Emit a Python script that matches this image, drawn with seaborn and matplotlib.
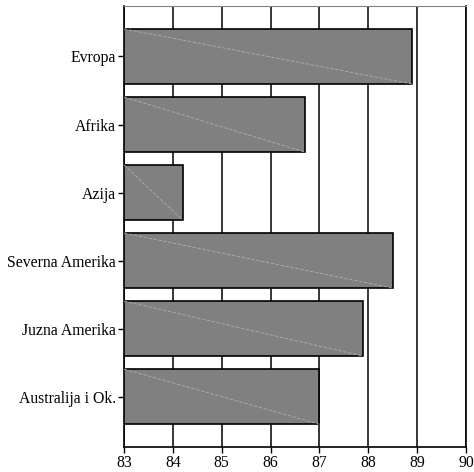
import numpy as np
import pandas as pd
import matplotlib
matplotlib.use('Agg')
import matplotlib.pyplot as plt
import seaborn as sns

# Data
regions = ['Evropa', 'Afrika', 'Azija', 'Severna Amerika', 'Juzna Amerika', 'Australija i Ok.']
values = [88.9, 86.7, 84.2, 88.5, 87.9, 87.0]
x_ticks = [83, 84, 85, 86, 87, 88, 89, 90]

df = pd.DataFrame({'region': regions, 'value': values})

sns.set_style('white')
plt.rcParams['font.family'] = ['Liberation Serif', 'DejaVu Serif']

fig = plt.figure(figsize=(4.74, 4.72), dpi=100)
ax = fig.add_axes([0.2616, 0.053, 0.7215, 0.934])

# vertical gridlines behind the bars
for t in x_ticks:
    ax.axvline(t, color='black', linewidth=1.1, zorder=0)

sns.barplot(data=df, y='region', x='value', orient='h', color='#808080',
            saturation=1, edgecolor='black', linewidth=1.2, width=0.81,
            ax=ax, zorder=2)

# thin light diagonal inside each bar
for p in ax.patches:
    y0 = p.get_y()
    y1 = y0 + p.get_height()
    x1 = p.get_x() + p.get_width()
    ax.plot([x_ticks[0], x1], [y0, y1], color='#b0b0b0', linewidth=0.6,
            linestyle=(0, (4, 2)), zorder=3)

ax.set_xlim(x_ticks[0], x_ticks[-1])
ax.set_ylim(len(regions) - 0.26, -0.74)
ax.set_xticks(x_ticks)
ax.set_xlabel('')
ax.set_ylabel('')

for s in ['left', 'bottom', 'right']:
    ax.spines[s].set_color('black')
    ax.spines[s].set_linewidth(1.2)
ax.spines['top'].set_color('#808080')
ax.spines['top'].set_linewidth(0.8)

ax.tick_params(axis='both', which='major', direction='out', length=4,
               width=1, color='black', labelsize=11.3, labelcolor='black',
               bottom=True, left=True, pad=2)

fig.savefig('out.png', dpi=100)
